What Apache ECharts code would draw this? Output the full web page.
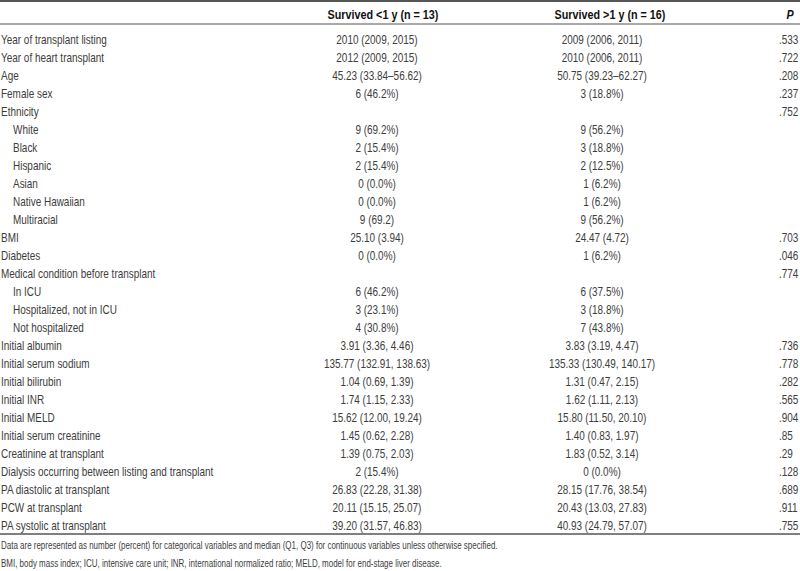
<!DOCTYPE html>
<html>
<head>
<meta charset="utf-8">
<script src="https://cdn.jsdelivr.net/npm/echarts@6/dist/echarts.min.js"></script>
<style>
html,body{margin:0;padding:0;background:#fff;}
#chart{width:800px;height:571px;}
</style>
</head>
<body>
<div id="chart"></div>
<script>
// ---- table data ----
var columnHeaders = ['', 'Survived <1 y (n = 13)', 'Survived >1 y (n = 16)', 'P'];
var rowLabels = [
  'Year of transplant listing','Year of heart transplant','Age','Female sex','Ethnicity',
  'White','Black','Hispanic','Asian','Native Hawaiian','Multiracial',
  'BMI','Diabetes','Medical condition before transplant',
  'In ICU','Hospitalized, not in ICU','Not hospitalized',
  'Initial albumin','Initial serum sodium','Initial bilirubin','Initial INR','Initial MELD',
  'Initial serum creatinine','Creatinine at transplant','Dialysis occurring between listing and transplant',
  'PA diastolic at transplant','PCW at transplant','PA systolic at transplant'
];
var rowLevel = [0,0,0,0,0, 1,1,1,1,1,1, 0,0,0, 1,1,1, 0,0,0,0,0, 0,0,0, 0,0,0];
var survivedLess1y = [
  '2010 (2009, 2015)','2012 (2009, 2015)','45.23 (33.84\u201356.62)','6 (46.2%)','',
  '9 (69.2%)','2 (15.4%)','2 (15.4%)','0 (0.0%)','0 (0.0%)','9 (69.2)',
  '25.10 (3.94)','0 (0.0%)','',
  '6 (46.2%)','3 (23.1%)','4 (30.8%)',
  '3.91 (3.36, 4.46)','135.77 (132.91, 138.63)','1.04 (0.69, 1.39)','1.74 (1.15, 2.33)','15.62 (12.00, 19.24)',
  '1.45 (0.62, 2.28)','1.39 (0.75, 2.03)','2 (15.4%)',
  '26.83 (22.28, 31.38)','20.11 (15.15, 25.07)','39.20 (31.57, 46.83)'
];
var survivedMore1y = [
  '2009 (2006, 2011)','2010 (2006, 2011)','50.75 (39.23\u201362.27)','3 (18.8%)','',
  '9 (56.2%)','3 (18.8%)','2 (12.5%)','1 (6.2%)','1 (6.2%)','9 (56.2%)',
  '24.47 (4.72)','1 (6.2%)','',
  '6 (37.5%)','3 (18.8%)','7 (43.8%)',
  '3.83 (3.19, 4.47)','135.33 (130.49, 140.17)','1.31 (0.47, 2.15)','1.62 (1.11, 2.13)','15.80 (11.50, 20.10)',
  '1.40 (0.83, 1.97)','1.83 (0.52, 3.14)','0 (0.0%)',
  '28.15 (17.76, 38.54)','20.43 (13.03, 27.83)','40.93 (24.79, 57.07)'
];
var pValues = [
  '.533','.722','.208','.237','.752',
  '','','','','','',
  '.703','.046','.774',
  '','','',
  '.736','.778','.282','.565','.904',
  '.85','.29','.128',
  '.689','.911','.755'
];
var footnotes = [
  'Data are represented as number (percent) for categorical variables and median (Q1, Q3) for continuous variables unless otherwise specified.',
  'BMI, body mass index; ICU, intensive care unit; INR, international normalized ratio; MELD, model for end-stage liver disease.'
];

// ---- layout ----
var FONT = "'Liberation Sans',Arial,sans-serif";
var NARROW = 0.83;
var TXT = '#3d3d3d';
var RULE = '#555555';
var W = 800;
var colAnchor = [1, 377, 602, 779];   // x anchors in axis units (= px)
var headerAnchor = [0, 383, 610, 790];
var indentStep = 12;
var ROWH = 18;
var gridTop = 31;
var nRows = rowLabels.length;
var rowIdx = rowLabels.map(function (_, i) { return i; });

function cellSeries(col, texts, align) {
  return {
    type: 'custom',
    xAxisIndex: 0, yAxisIndex: 0,
    silent: true,
    data: texts.map(function (t, i) {
      var x = col === 0 ? colAnchor[0] + rowLevel[i] * indentStep : colAnchor[col];
      return [x, i];
    }),
    renderItem: function (params, api) {
      var p = api.coord([api.value(0), api.value(1)]);
      return {
        type: 'text',
        x: p[0], y: p[1],
        scaleX: NARROW, scaleY: 1,
        style: {
          text: texts[params.dataIndex],
          fill: TXT,
          font: '12px ' + FONT,
          align: align, verticalAlign: 'middle',
          textAlign: align, textVerticalAlign: 'middle'
        }
      };
    }
  };
}

function headerSeries() {
  var cols = [1, 2, 3];
  return {
    type: 'custom',
    xAxisIndex: 1, yAxisIndex: 1,
    silent: true,
    data: cols.map(function (c) { return [headerAnchor[c], 0]; }),
    renderItem: function (params, api) {
      var c = cols[params.dataIndex];
      var p = api.coord([api.value(0), api.value(1)]);
      return {
        type: 'text',
        x: p[0], y: p[1],
        scaleX: NARROW, scaleY: 1,
        style: {
          text: columnHeaders[c],
          fill: '#111111',
          font: (c === 3 ? 'italic ' : '') + 'bold 13px ' + FONT,
          align: 'center', verticalAlign: 'middle',
          textAlign: 'center', textVerticalAlign: 'middle'
        }
      };
    }
  };
}

var tableBottom = gridTop + nRows * ROWH;

var option = {
  backgroundColor: '#ffffff',
  animation: false,
  grid: [
    { left: 0, right: 0, top: gridTop, height: nRows * ROWH },
    { left: 0, right: 0, top: 5, height: 20 }
  ],
  xAxis: [
    { type: 'value', min: 0, max: W, show: false, gridIndex: 0 },
    { type: 'value', min: 0, max: W, show: false, gridIndex: 1 }
  ],
  yAxis: [
    { type: 'category', data: rowIdx, inverse: true, show: false, gridIndex: 0 },
    { type: 'category', data: [0], inverse: true, show: false, gridIndex: 1 }
  ],
  graphic: [
    { type: 'line', shape: { x1: 0, y1: 1, x2: W, y2: 1 }, style: { stroke: RULE, lineWidth: 2 } },
    { type: 'line', shape: { x1: 0, y1: 24, x2: W, y2: 24 }, style: { stroke: RULE, lineWidth: 1.2 } },
    { type: 'line', shape: { x1: 0, y1: tableBottom - 1, x2: W, y2: tableBottom - 1 }, style: { stroke: RULE, lineWidth: 1.5 } },
    { type: 'text', x: 1, y: 546, scaleX: 0.76, style: { text: footnotes[0], fill: TXT, font: '10.5px ' + FONT, verticalAlign: 'middle', textVerticalAlign: 'middle' } },
    { type: 'text', x: 1, y: 564, scaleX: 0.76, style: { text: footnotes[1], fill: TXT, font: '10.5px ' + FONT, verticalAlign: 'middle', textVerticalAlign: 'middle' } }
  ],
  series: [
    cellSeries(0, rowLabels, 'left'),
    cellSeries(1, survivedLess1y, 'center'),
    cellSeries(2, survivedMore1y, 'center'),
    cellSeries(3, pValues, 'left'),
    headerSeries()
  ]
};

var chart = echarts.init(document.getElementById('chart'), null, { renderer: 'svg' });
chart.setOption(option);
</script>
</body>
</html>
